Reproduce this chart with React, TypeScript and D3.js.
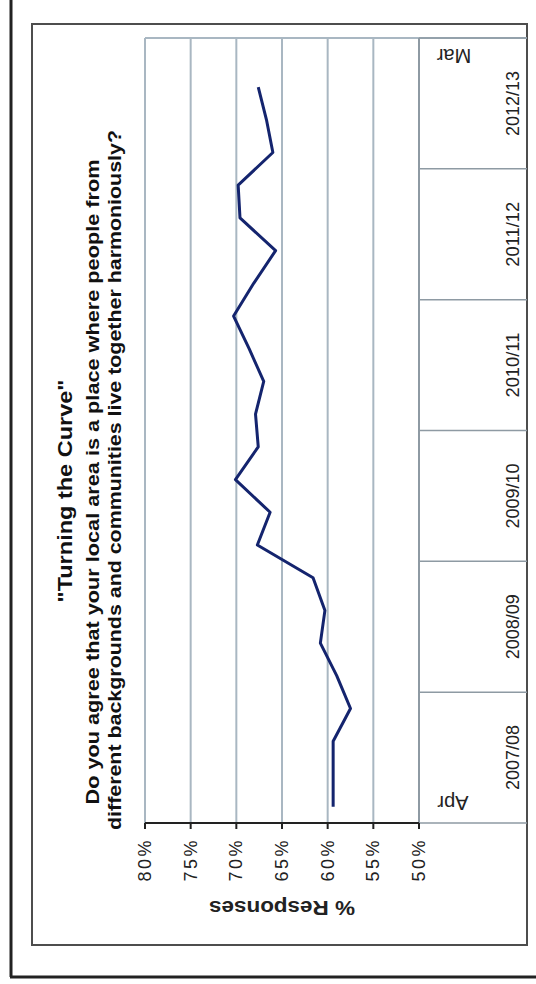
import React from 'react';
import * as d3 from 'd3';

// financial years shown on the (rotated) category axis, bottom to top
const years = ['2007/08', '2008/09', '2009/10', '2010/11', '2011/12', '2012/13'];
const quarterNames = ['Q1', 'Q2', 'Q3', 'Q4'];
const quarters = years.flatMap(y => quarterNames.map(q => y + ' ' + q));

// % agreeing, one reading per quarter (last quarter of 2012/13 not reported)
const responses = [
  59.4, 59.4, 59.4, 57.5, 59.0, 60.8, 60.3, 61.6,
  67.7, 66.3, 70.1, 67.6, 67.9, 67.0, 68.6, 70.3,
  68.1, 65.7, 69.6, 69.8, 66.0, 66.7, 67.6,
];

const pctTicks = [80, 75, 70, 65, 60, 55, 50];

const titleLines = [
  '"Turning the Curve"',
  'Do you agree that your local area is a place where people from',
  'different backgrounds and communities live together harmoniously?',
];

const font = '"Liberation Sans", Arial, sans-serif';
const gridColor = '#a9b7c2';

export default function App() {
  const plotLeft = 145, plotRight = 419, plotTop = 38, plotBottom = 823;
  const frameRight = 527;

  const x = d3.scaleLinear().domain([50, 80]).range([plotRight, plotLeft]);
  const yYear = d3.scaleBand().domain(years).range([plotBottom, plotTop]);
  const yQuarter = d3.scaleBand().domain(quarters).range([plotBottom, plotTop]);

  const points = responses.map((v, i) => ({ q: quarters[i], v }));
  const line = d3.line<{ q: string; v: number }>()
    .x(d => x(d.v))
    .y(d => (yQuarter(d.q) as number) + yQuarter.bandwidth() / 2);

  // year boundaries (bottom edge of each band plus the top)
  const bounds = years.map(y => (yYear(y) as number) + yYear.bandwidth()).concat([plotTop]);

  return (
    <svg width={536} height={984} style={{ position: 'absolute', left: 0, top: 0, background: '#fff' }}>
      {/* outer frame */}
      <line x1={11} y1={0} x2={11} y2={977} stroke="#222" strokeWidth={3} />
      <line x1={10} y1={977} x2={536} y2={977} stroke="#222" strokeWidth={3} />

      {/* chart frame */}
      <rect x={32} y={24} width={frameRight - 32} height={945 - 24} fill="#fff" stroke="#4d4d4d" strokeWidth={2} />

      {/* value gridlines */}
      {pctTicks.map(t => (
        <line key={'g' + t} x1={x(t)} x2={x(t)} y1={plotTop} y2={plotBottom} stroke={gridColor} strokeWidth={2} />
      ))}
      <line x1={plotLeft} x2={frameRight} y1={plotTop} y2={plotTop} stroke={gridColor} strokeWidth={2} />

      {/* category axis dividers */}
      {bounds.map((b, i) => (
        <line key={'b' + i} x1={plotRight} x2={frameRight} y1={b} y2={b} stroke="#8e9aa3" strokeWidth={1.5} />
      ))}
      <line x1={plotRight} x2={plotRight} y1={plotTop} y2={plotBottom} stroke="#8e9aa3" strokeWidth={2} />

      {/* value axis */}
      <line x1={plotLeft} x2={plotRight} y1={plotBottom} y2={plotBottom} stroke="#222" strokeWidth={2} />
      {pctTicks.map(t => (
        <line key={'t' + t} x1={x(t)} x2={x(t)} y1={plotBottom} y2={plotBottom + 6} stroke="#222" strokeWidth={2} />
      ))}
      {pctTicks.map(t => (
        <text key={'l' + t} transform={`translate(${x(t)},861) rotate(-90)`} textAnchor="middle"
          dominantBaseline="central" fontFamily={font} fontSize={18} textLength={41} lengthAdjust="spacing" fill="#222">
          {t + '%'}
        </text>
      ))}
      <text transform={`translate(${(plotLeft + plotRight) / 2},908) rotate(180)`} textAnchor="middle"
        dominantBaseline="central" fontFamily={font} fontSize={21} fontWeight="bold" textLength={146}
        lengthAdjust="spacingAndGlyphs" fill="#222">
        % Responses
      </text>

      {/* year labels */}
      {years.map(y => (
        <text key={y} transform={`translate(512,${(yYear(y) as number) + yYear.bandwidth() / 2}) rotate(-90)`}
          textAnchor="middle" dominantBaseline="central" fontFamily={font} fontSize={19} textLength={65}
          lengthAdjust="spacingAndGlyphs" fill="#222">
          {y}
        </text>
      ))}
      <text transform="translate(453,803) rotate(180)" textAnchor="middle" dominantBaseline="central"
        fontFamily={font} fontSize={20} fill="#222">Apr</text>
      <text transform="translate(454,56) rotate(180)" textAnchor="middle" dominantBaseline="central"
        fontFamily={font} fontSize={20} fill="#222">Mar</text>

      {/* titles */}
      <text transform="translate(64,491) rotate(-90)" textAnchor="middle" dominantBaseline="central"
        fontFamily={font} fontSize={21} fontWeight="bold" textLength={223} lengthAdjust="spacingAndGlyphs"
        fill="#111">{titleLines[0]}</text>
      <text transform="translate(92,482) rotate(-90)" textAnchor="middle" dominantBaseline="central"
        fontFamily={font} fontSize={19} fontWeight="bold" textLength={645} lengthAdjust="spacingAndGlyphs"
        fill="#111">{titleLines[1]}</text>
      <text transform="translate(114,480) rotate(-90)" textAnchor="middle" dominantBaseline="central"
        fontFamily={font} fontSize={19} fontWeight="bold" textLength={700} lengthAdjust="spacingAndGlyphs"
        fill="#111">{titleLines[2]}</text>

      {/* series */}
      <path d={line(points) || ''} fill="none" stroke="#14246e" strokeWidth={3} strokeLinejoin="round" />
    </svg>
  );
}
